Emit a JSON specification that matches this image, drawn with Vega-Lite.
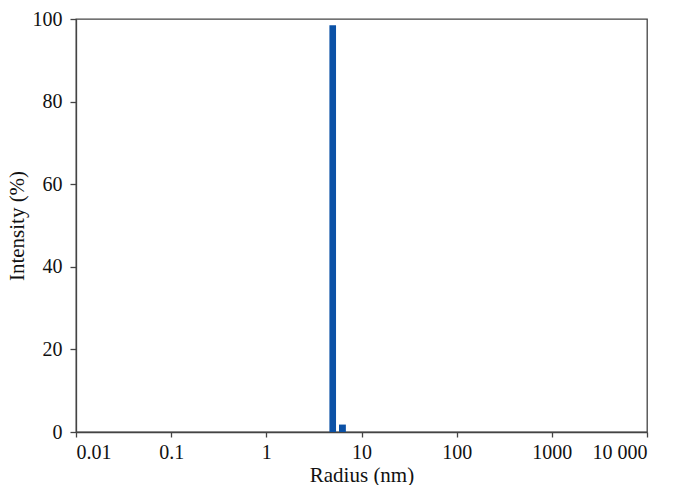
{
  "$schema": "https://vega.github.io/schema/vega-lite/v6.json",
  "width": 571,
  "height": 413,
  "autosize": {"type": "none"},
  "padding": {"left": 76, "top": 19, "right": 31, "bottom": 53},
  "background": "white",
  "config": {
    "view": {"stroke": "#444444", "strokeWidth": 1.3},
    "font": "Liberation Serif",
    "axis": {
      "grid": false,
      "domainColor": "#444444",
      "domainWidth": 1.3,
      "tickColor": "#444444",
      "tickWidth": 1.3,
      "labelFont": "Liberation Serif",
      "titleFont": "Liberation Serif",
      "labelFontSize": 20,
      "titleFontSize": 21,
      "labelColor": "#111111",
      "titleColor": "#111111",
      "titleFontWeight": "normal"
    }
  },
  "data": {
    "values": [
      {"r_start": 4.6, "r_end": 5.4, "intensity": 98.5},
      {"r_start": 5.8, "r_end": 6.85, "intensity": 1.8}
    ]
  },
  "mark": {"type": "rect", "color": "#0B51A6"},
  "encoding": {
    "x": {
      "field": "r_start",
      "type": "quantitative",
      "scale": {"type": "log", "domain": [0.01, 10000], "nice": false},
      "axis": {
        "title": "Radius (nm)",
        "values": [0.01, 0.1, 1, 10, 100, 1000, 10000],
        "labelExpr": "datum.value == 10000 ? '10 000' : datum.value == 0.01 ? '0.01' : datum.value == 0.1 ? '0.1' : format(datum.value, 'd')",
        "tickSize": 5,
        "labelPadding": 5,
        "titlePadding": 2
      }
    },
    "x2": {"field": "r_end"},
    "y": {
      "field": "intensity",
      "type": "quantitative",
      "scale": {"domain": [0, 100], "nice": false},
      "axis": {
        "title": "Intensity (%)",
        "values": [0, 20, 40, 60, 80, 100],
        "tickSize": 6,
        "labelPadding": 8,
        "titlePadding": 5
      }
    },
    "y2": {"datum": 0}
  }
}
